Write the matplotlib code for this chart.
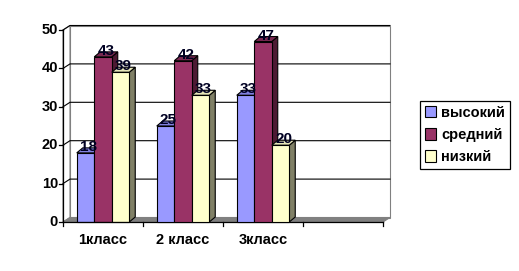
import matplotlib
matplotlib.use("Agg")
import matplotlib.pyplot as plt
from matplotlib.patches import Polygon, Patch

categories = ["1класс", "2 класс", "3класс", ""]
series_names = ["высокий", "средний", "низкий"]
vysokiy = [18, 25, 33]
sredniy = [43, 42, 47]
nizkiy = [39, 33, 20]
yticks = [0, 10, 20, 30, 40, 50]

front_cols = ["#9999FF", "#993366", "#FFFFCC"]
side_cols = ["#4D4D80", "#4D1A33", "#808066"]
top_cols = ["#8080E0", "#7A2952", "#E6E6B8"]

plt.rcParams["font.family"] = ["Liberation Sans", "DejaVu Sans"]
plt.rcParams["font.weight"] = "bold"

fig = plt.figure(figsize=(5.19, 2.71), dpi=100)
ax = fig.add_axes([63 / 519, 49 / 271, 320 / 519, 192 / 271])
ax.set_xlim(0, 4)
ax.set_ylim(0, 50)
ax.axis("off")

# pixel -> data helpers
px = 4 / 320
py = 50 / 192
wdx, wdy = 7 * px, 4.5 * py   # wall depth
bdx, bdy = 6 * px, 5 * py     # bar depth
n = len(categories)

def poly(pts, fc, ec="black", lw=0.8, z=1):
    ax.add_patch(Polygon(pts, closed=True, facecolor=fc, edgecolor=ec,
                         linewidth=lw, zorder=z, clip_on=False))

# back wall and side wall
poly([(wdx, wdy), (n + wdx, wdy), (n + wdx, 50 + wdy), (wdx, 50 + wdy)],
     "white", ec="#808080", z=0)
poly([(0, 0), (wdx, wdy), (wdx, 50 + wdy), (0, 50)], "white", ec="#808080", z=0)

# gridlines
for v in yticks[1:]:
    ax.plot([0, wdx, n + wdx], [v, v + wdy, v + wdy], color="black", lw=0.8,
            zorder=0.5, clip_on=False)

# floor
poly([(0, 0), (n, 0), (n + wdx, wdy), (wdx, wdy)], "#808080", ec="#808080", z=0.6)

# axes lines and ticks
ax.plot([0, 0], [0, 50], color="black", lw=0.9, zorder=5, clip_on=False)
ax.plot([0, n], [0, 0], color="black", lw=0.9, zorder=5, clip_on=False)
for v in yticks:
    ax.plot([-4 * px, 0], [v, v], color="black", lw=0.9, clip_on=False)
    ax.text(-5 * px, v, str(v), ha="right", va="center", fontsize=10.5,
            fontweight="bold")
for i in range(n + 1):
    ax.plot([i, i], [0, -4 * py], color="black", lw=0.9, clip_on=False)
for i, c in enumerate(categories):
    ax.text(i + 0.5, -18 * py, c, ha="center", va="center", fontsize=10.5,
            fontweight="bold")

# bars
w = 17.5 * px
data = [vysokiy, sredniy, nizkiy]
z = 2
for i in range(3):
    for j in range(3):
        v = data[j][i]
        x0 = i + 0.5 + (j - 1.5) * w
        x1 = x0 + w
        poly([(x1, 0), (x1 + bdx, bdy), (x1 + bdx, v + bdy), (x1, v)], side_cols[j], z=z)
        poly([(x0, v), (x1, v), (x1 + bdx, v + bdy), (x0 + bdx, v + bdy)], top_cols[j], z=z)
        ax.bar(x0, v, width=w, align="edge", color=front_cols[j], edgecolor="black",
               linewidth=0.8, zorder=z + 0.5, clip_on=False)
        ax.annotate(str(v), (x0 + w / 2 + bdx / 2, v), xytext=(0, 6),
                    textcoords="offset pixels", ha="center", va="center",
                    fontsize=11, fontweight="bold", color="#000022", zorder=20)
        z += 1

handles = [Patch(facecolor=c, edgecolor="black", linewidth=0.8) for c in front_cols]
leg = fig.legend(handles, series_names, loc="center", bbox_to_anchor=(465 / 519, 1 - 135 / 271),
                 frameon=True, fancybox=False, edgecolor="black", framealpha=1,
                 handlelength=0.8, handleheight=0.8, handletextpad=0.35,
                 labelspacing=0.55, borderpad=0.35, borderaxespad=0,
                 prop={"size": 10.5, "weight": "bold"})
leg.get_frame().set_linewidth(0.9)

fig.savefig("out.png", dpi=100)
